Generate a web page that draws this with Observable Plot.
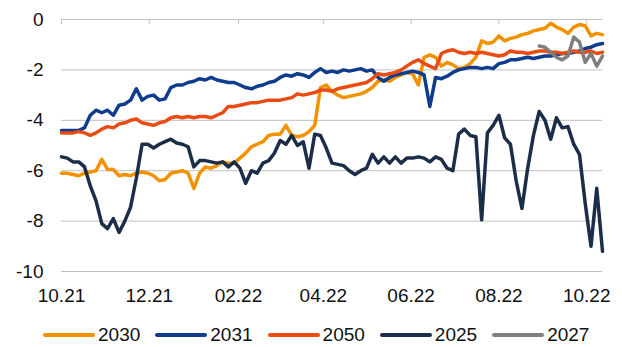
<!DOCTYPE html>
<html>
<head>
<meta charset="utf-8">
<script src="https://cdn.jsdelivr.net/npm/d3@7"></script>
<script src="https://cdn.jsdelivr.net/npm/@observablehq/plot@0.6"></script>
<style>
  html, body { margin: 0; padding: 0; background: #fff; }
  #chart { position: relative; width: 622px; height: 347px; font-family: "Liberation Sans", Arial, sans-serif; }
  #legend { position: absolute; left: 43px; top: 324px; height: 22px; display: flex; align-items: center; gap: 15px; font-size: 19px; color: #111; }
  #legend .item { display: flex; align-items: center; }
  #legend .sw { display: inline-block; width: 52px; height: 4px; border-radius: 2px; margin-right: 3px; }
</style>
</head>
<body>
<div id="chart"><div id="legend"></div></div>
<script>
// Observations every 4 days starting 1 Oct 2021
const startDate = "2021-10-01";
const stepDays = 4;

// Axis ticks
const tickLabels = ["10.21", "12.21", "02.22", "04.22", "06.22", "08.22", "10.22"];
const yTicks = [0, -2, -4, -6, -8, -10];

// Series names and colours (legend order = drawing order)
const seriesNames = ["2030", "2031", "2050", "2025", "2027"];
const seriesColors = ["#F39200", "#0F3C8C", "#E94C12", "#1B2D48", "#7F7F7F"];

const s2030 = [
  -6.1, -6.1, -6.15, -6.2, -6.1, -6.05, -6.0, -5.55, -5.95, -5.95,
  -6.2, -6.15, -6.2, -6.1, -6.05, -6.1, -6.2, -6.4, -6.35, -6.1,
  -6.05, -6.0, -6.1, -6.7, -6.1, -5.85, -5.9, -5.8, -5.65, -5.7,
  -5.7, -5.5, -5.3, -5.05, -4.95, -4.85, -4.6, -4.55, -4.55, -4.2,
  -4.6, -4.65, -4.6, -4.45, -4.2, -2.7, -2.6, -2.85, -3.0, -3.1,
  -3.05, -3.0, -2.95, -2.85, -2.7, -2.45, -2.4, -2.45, -2.3, -2.2,
  -2.1, -2.15, -2.6, -1.5, -1.4, -1.5, -1.85, -1.7, -1.8, -1.95,
  -1.9, -1.75, -1.5, -0.85, -0.95, -0.9, -0.65, -0.85, -0.75, -0.7,
  -0.6, -0.55, -0.45, -0.4, -0.35, -0.15, -0.3, -0.4, -0.55, -0.3,
  -0.2, -0.25, -0.65, -0.55, -0.6
];

const s2031 = [
  -4.4, -4.4, -4.4, -4.4, -4.3, -3.8, -3.6, -3.7, -3.6, -3.8,
  -3.4, -3.35, -3.2, -2.75, -3.2, -3.05, -3.0, -3.2, -3.15, -2.7,
  -2.6, -2.6, -2.5, -2.45, -2.35, -2.4, -2.3, -2.4, -2.45, -2.5,
  -2.5, -2.6, -2.7, -2.75, -2.65, -2.6, -2.5, -2.45, -2.3, -2.2,
  -2.25, -2.15, -2.2, -2.3, -2.1, -1.95, -2.1, -2.05, -2.1, -2.0,
  -2.05, -2.0, -1.95, -2.05, -2.0, -2.3, -2.45, -2.3, -2.2, -2.15,
  -2.1, -2.05, -2.1, -2.2, -3.45, -2.3, -2.35, -2.25, -2.1, -2.0,
  -1.95, -1.9, -1.9, -1.95, -1.9, -1.95, -1.75, -1.7, -1.6, -1.6,
  -1.55, -1.5, -1.55, -1.5, -1.45, -1.45, -1.4, -1.35, -1.35, -1.3,
  -1.25, -1.15, -1.1, -1.0, -0.95
];

const s2050 = [
  -4.5, -4.5, -4.5, -4.45, -4.5, -4.6, -4.5, -4.35, -4.25, -4.3,
  -4.15, -4.1, -4.0, -3.95, -4.1, -4.15, -4.2, -4.1, -4.05, -3.9,
  -3.85, -3.9, -3.85, -3.9, -3.85, -3.85, -3.9, -3.8, -3.7, -3.45,
  -3.45, -3.4, -3.35, -3.3, -3.3, -3.25, -3.2, -3.2, -3.2, -3.15,
  -3.1, -2.95, -3.0, -2.95, -2.9, -2.8, -2.8, -2.85, -2.75, -2.7,
  -2.65, -2.6, -2.55, -2.5, -2.35, -2.15, -2.2, -2.15, -2.1, -2.0,
  -1.85, -1.7, -1.6, -1.75, -1.85, -1.95, -1.35, -1.25, -1.2, -1.3,
  -1.35, -1.3, -1.35, -1.3, -1.35, -1.4, -1.45, -1.4, -1.25, -1.3,
  -1.3, -1.35, -1.3, -1.25, -1.25, -1.3, -1.3, -1.35, -1.3, -1.25,
  -1.3, -1.3, -1.25, -1.35, -1.3
];

const s2025 = [
  -5.45, -5.5, -5.65, -5.65, -5.85, -6.6, -7.2, -8.1, -8.3, -7.9,
  -8.45, -8.0, -7.45, -6.3, -4.95, -4.95, -5.1, -4.95, -4.85, -4.75,
  -4.9, -4.95, -5.05, -5.85, -5.6, -5.6, -5.65, -5.7, -5.65, -5.85,
  -5.65, -5.9, -6.5, -6.0, -6.1, -5.7, -5.6, -5.3, -4.8, -4.95,
  -4.6, -5.0, -4.85, -5.9, -4.55, -4.6, -5.1, -5.7, -5.75, -5.8,
  -6.0, -6.15, -6.0, -5.9, -5.35, -5.7, -5.45, -5.7, -5.45, -5.7,
  -5.5, -5.5, -5.45, -5.5, -5.65, -5.45, -5.55, -5.9, -6.0, -4.55,
  -4.35, -4.6, -4.65, -7.95, -4.5, -4.2, -3.8, -4.7, -4.95, -6.4,
  -7.5, -5.9, -4.6, -3.65, -4.0, -4.75, -3.9, -4.3, -4.25, -4.95,
  -5.35, -7.3, -9.0, -6.7, -9.2
];

// 2027 only starts trading in late August 2022
const s2027 = [
  null, null, null, null, null, null, null, null, null, null,
  null, null, null, null, null, null, null, null, null, null,
  null, null, null, null, null, null, null, null, null, null,
  null, null, null, null, null, null, null, null, null, null,
  null, null, null, null, null, null, null, null, null, null,
  null, null, null, null, null, null, null, null, null, null,
  null, null, null, null, null, null, null, null, null, null,
  null, null, null, null, null, null, null, null, null, null,
  null, null, null, -1.05, -1.1, -1.3, -1.5, -1.6, -1.45, -0.7,
  -0.9, -1.7, -1.35, -1.85, -1.45
];

const seriesValues = [s2030, s2031, s2050, s2025, s2027];

const start = new Date(startDate + "T00:00:00Z");
const dates = s2030.map((_, i) => d3.utcDay.offset(start, i * stepDays));

const tickDates = tickLabels.map(t => {
  const [mm, yy] = t.split(".").map(Number);
  return new Date(Date.UTC(2000 + yy, mm - 1, 1));
});
const labelByTime = new Map(tickDates.map((d, i) => [+d, tickLabels[i]]));

const font = '"Liberation Sans", Arial, sans-serif';

const lineMarks = seriesNames.map((name, k) => {
  const rows = seriesValues[k]
    .map((v, i) => ({date: dates[i], value: v}))
    .filter(r => r.value != null);
  return Plot.line(rows, {
    x: "date", y: "value",
    stroke: seriesColors[k], strokeWidth: 3.5,
    strokeLinejoin: "round", strokeLinecap: "round"
  });
});

const chart = Plot.plot({
  width: 622,
  height: 312,
  marginLeft: 61,
  marginRight: 20,
  marginTop: 19,
  marginBottom: 41,
  style: {fontFamily: font, fontSize: "19px", color: "#111", background: "transparent", overflow: "visible"},
  x: {type: "utc", domain: [dates[0], dates[dates.length - 1]]},
  y: {domain: [-10, 0]},
  marks: [
    Plot.ruleY(yTicks, {stroke: "#c0c0c0", strokeWidth: 1}),
    Plot.ruleX(tickDates, {x: d => d, y1: 0, y2: -0.2, stroke: "#c0c0c0", strokeWidth: 1}),
    Plot.axisY(yTicks, {tickSize: 0, tickPadding: 18, tickFormat: d => String(d), label: null, fill: "#111"}),
    Plot.axisX(tickDates, {tickSize: 0, tickPadding: 17, tickFormat: d => labelByTime.get(+d), label: null, fill: "#111"}),
    ...lineMarks
  ]
});

const host = document.getElementById("chart");
host.insertBefore(chart, host.firstChild);

// Line-swatch legend below the plot
const legend = document.getElementById("legend");
seriesNames.forEach((name, k) => {
  const item = document.createElement("div");
  item.className = "item";
  const sw = document.createElement("span");
  sw.className = "sw";
  sw.style.background = seriesColors[k];
  const label = document.createElement("span");
  label.textContent = name;
  item.appendChild(sw);
  item.appendChild(label);
  legend.appendChild(item);
});
</script>
</body>
</html>
